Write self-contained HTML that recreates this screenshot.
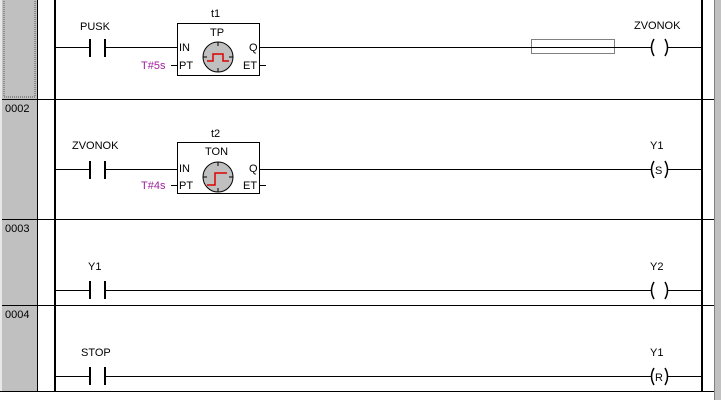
<!DOCTYPE html>
<html><head><style>
body{margin:0;background:#fff;}
svg text{font-family:"Liberation Sans",sans-serif;font-size:11px;}
</style></head><body>
<svg width="721" height="400" xmlns="http://www.w3.org/2000/svg">
<rect x="0" y="0" width="721" height="400" fill="#fff"/>
<rect x="2" y="0" width="35" height="391" fill="#c0c0c0"/>
<rect x="0" y="0" width="2" height="391" fill="#e8e8e8"/>
<rect x="4" y="-2" width="31" height="99" fill="none" stroke="#555" stroke-dasharray="1,1"/>
<rect x="715" y="0" width="6" height="400" fill="#c0c0c0"/>
<line x1="714.5" y1="0" x2="714.5" y2="400" stroke="#808080"/>
<line x1="37.5" y1="0" x2="37.5" y2="391" stroke="#000"/>
<line x1="55" y1="0" x2="55" y2="391" stroke="#000" stroke-width="2"/>
<line x1="702" y1="0" x2="702" y2="391" stroke="#000" stroke-width="2"/>
<g stroke="#000">
<line x1="2" y1="99.5" x2="714" y2="99.5"/>
<line x1="2" y1="219.5" x2="714" y2="219.5"/>
<line x1="2" y1="305.5" x2="714" y2="305.5"/>
<line x1="0" y1="391.5" x2="714" y2="391.5"/>
</g>
<g fill="#000"><text x="5" y="112">0002</text><text x="5" y="232">0003</text><text x="5" y="318">0004</text></g>

<!-- coils -->
<g stroke="#000" fill="none" stroke-width="1.5">
<path d="M654 39q-5 8.5 0 17M665 39q5 8.5 0 17"/>
<path d="M654 161q-5 8.5 0 17M665 161q5 8.5 0 17"/>
<path d="M654 282q-5 8.5 0 17M665 282q5 8.5 0 17"/>
<path d="M654 368q-5 8.5 0 17M665 368q5 8.5 0 17"/>
</g>
<text x="655" y="174" style="font-size:11px">S</text>
<text x="655" y="381" style="font-size:11px">R</text>

<!-- rung 1 -->
<g stroke="#000" fill="none">
<line x1="56" y1="47.5" x2="89" y2="47.5"/><line x1="105" y1="47.5" x2="177" y2="47.5"/>
<line x1="90" y1="39" x2="90" y2="57" stroke-width="2"/><line x1="105" y1="39" x2="105" y2="57" stroke-width="2"/>
<line x1="259" y1="47.5" x2="651" y2="47.5"/><line x1="668" y1="47.5" x2="701" y2="47.5"/>
<line x1="171" y1="65.5" x2="177" y2="65.5"/><line x1="259" y1="65.5" x2="266" y2="65.5"/>
<rect x="177.5" y="23.5" width="82" height="52"/>
<rect x="531.5" y="39.5" width="83" height="14" stroke-dasharray="1,1"/>
</g>
<text x="80" y="30">PUSK</text><text x="211" y="17">t1</text><text x="210" y="36">TP</text>
<text x="179" y="51">IN</text><text x="179" y="69">PT</text><text x="249" y="51">Q</text><text x="243" y="69">ET</text>
<text x="141" y="69" fill="#a020a0">T#5s</text>
<text x="634" y="29">ZVONOK</text>
<circle cx="218" cy="57" r="15" fill="#c0c0c0" stroke="#000"/>
<g stroke="#000"><line x1="218" y1="42" x2="218" y2="46"/><line x1="218" y1="68" x2="218" y2="72"/><line x1="203" y1="57" x2="207" y2="57"/><line x1="229" y1="57" x2="233" y2="57"/></g>
<path d="M207 61h6v-7h10v7h6" fill="none" stroke="#d00" stroke-width="1.5"/>

<!-- rung 2 -->
<g stroke="#000" fill="none">
<line x1="56" y1="169.5" x2="89" y2="169.5"/><line x1="105" y1="169.5" x2="177" y2="169.5"/>
<line x1="90" y1="161" x2="90" y2="179" stroke-width="2"/><line x1="105" y1="161" x2="105" y2="179" stroke-width="2"/>
<line x1="259" y1="169.5" x2="651" y2="169.5"/><line x1="668" y1="169.5" x2="701" y2="169.5"/>
<line x1="171" y1="185.5" x2="177" y2="185.5"/><line x1="259" y1="185.5" x2="266" y2="185.5"/>
<rect x="177.5" y="142.5" width="82" height="51"/>
</g>
<text x="72" y="149">ZVONOK</text><text x="211" y="137">t2</text><text x="205" y="155">TON</text>
<text x="179" y="172">IN</text><text x="179" y="189">PT</text><text x="249" y="172">Q</text><text x="243" y="189">ET</text>
<text x="141" y="189" fill="#a020a0">T#4s</text>
<text x="650" y="149">Y1</text>
<circle cx="218" cy="177" r="15" fill="#c0c0c0" stroke="#000"/>
<g stroke="#000"><line x1="218" y1="162" x2="218" y2="166"/><line x1="218" y1="188" x2="218" y2="192"/><line x1="203" y1="177" x2="207" y2="177"/><line x1="229" y1="177" x2="233" y2="177"/></g>
<path d="M207 185h8v-12h12" fill="none" stroke="#d00" stroke-width="1.5"/>

<!-- rung 3 -->
<g stroke="#000" fill="none">
<line x1="56" y1="290.5" x2="89" y2="290.5"/><line x1="105" y1="290.5" x2="651" y2="290.5"/>
<line x1="90" y1="281" x2="90" y2="299" stroke-width="2"/><line x1="105" y1="281" x2="105" y2="299" stroke-width="2"/>
<line x1="668" y1="290.5" x2="701" y2="290.5"/>
</g>
<text x="88" y="270">Y1</text><text x="650" y="270">Y2</text>

<!-- rung 4 -->
<g stroke="#000" fill="none">
<line x1="56" y1="376.5" x2="89" y2="376.5"/><line x1="105" y1="376.5" x2="651" y2="376.5"/>
<line x1="90" y1="367" x2="90" y2="385" stroke-width="2"/><line x1="105" y1="367" x2="105" y2="385" stroke-width="2"/>
<line x1="668" y1="376.5" x2="701" y2="376.5"/>
</g>
<text x="81" y="356">STOP</text><text x="650" y="356">Y1</text>
</svg>
</body></html>
